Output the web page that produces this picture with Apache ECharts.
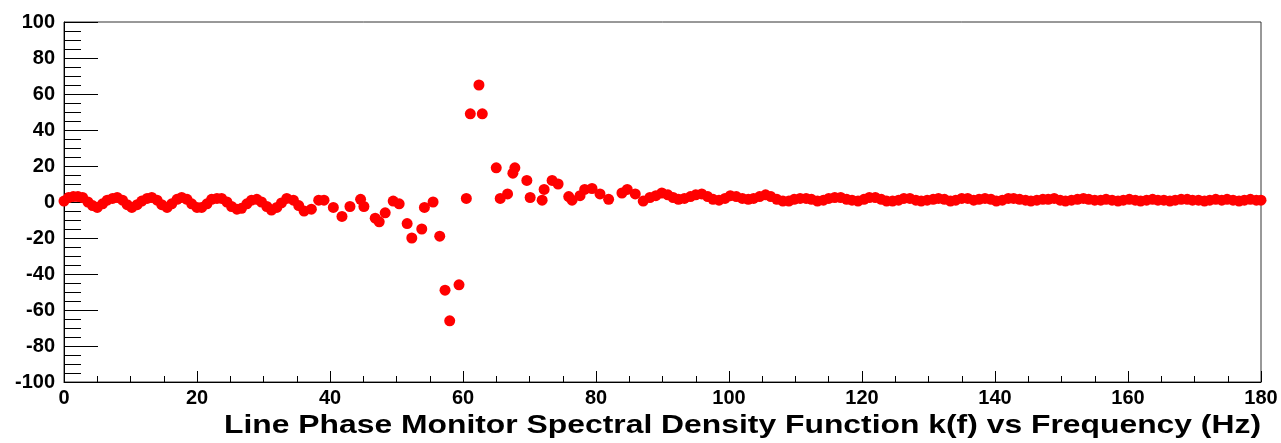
<!DOCTYPE html>
<html>
<head>
<meta charset="utf-8">
<script src="https://cdn.jsdelivr.net/npm/echarts@6/dist/echarts.min.js"></script>
<style>
html,body{margin:0;padding:0;background:#fff;}
#chart{width:1281px;height:443px;}
</style>
</head>
<body>
<div id="chart"></div>
<script>
// Frequencies (Hz)
const freq = [
  0.0,0.7,1.4,2.1,2.8,3.6,4.3,5.0,5.8,6.5,7.3,8.0,8.8,9.5,10.2,11.0,11.7,12.5,13.2,14.0,
  14.7,15.5,16.2,17.0,17.7,18.5,19.2,20.0,20.7,21.5,22.2,23.0,23.7,24.5,25.2,26.0,26.7,27.5,28.2,29.0,
  29.7,30.5,31.2,32.0,32.7,33.5,34.5,35.3,36.1,37.2,38.3,39.1,40.5,41.8,43.0,44.6,45.1,46.8,47.4,48.3,
  49.5,50.4,51.6,52.3,53.8,54.2,55.5,56.5,57.3,58.0,59.4,60.5,61.1,62.4,62.9,65.0,65.6,66.7,67.5,67.8,
  69.6,70.1,71.9,72.2,73.4,74.3,75.9,76.4,77.6,78.3,79.4,80.6,81.9,83.9,84.7,85.9,87.1,88.1,
  89.0,89.9,90.8,91.6,92.4,93.3,94.2,95.0,95.9,96.8,97.6,98.5,99.4,100.2,101.1,102.0,102.9,103.7,104.6,105.5,
  106.3,107.2,108.1,109.0,109.8,110.7,111.6,112.4,113.3,114.2,115.0,115.9,116.8,117.7,118.5,119.4,120.3,121.1,122.0,122.9,
  123.7,124.6,125.5,126.3,127.2,128.1,128.9,129.8,130.7,131.5,132.4,133.3,134.1,135.0,135.9,136.8,137.6,138.5,139.4,140.2,
  141.1,142.0,142.8,143.7,144.6,145.4,146.3,147.2,148.0,148.9,149.8,150.6,151.5,152.4,153.3,154.1,155.0,155.9,156.7,157.6,
  158.5,159.3,160.2,161.1,161.9,162.8,163.7,164.5,165.4,166.3,167.1,168.0,168.9,169.7,170.6,171.5,172.3,173.2,174.1,174.9,
  175.8,176.7,177.5,178.4,179.3,180.0
];
// k(f) values
const kf = [
  0.5,2.5,3,3,2.5,0,-2,-3,-1,1,2,2.5,1,-1.5,-3,-1.5,0.5,2,2.5,1,
  -1.5,-3,-1,1.5,2.5,1.5,-1,-3,-3,-1,1.5,2,2,0,-2.5,-4,-3.5,-1,1,1.5,
  0,-2.5,-4.5,-3,-0.5,2,1,-2,-5,-4,1,1,-3,-8,-2.5,1.5,-2.5,-9,-11,-6,
  0.5,-1,-12,-20,-15,-3,0,-19,-49,-66,-46,2,49,65,49,19,2,4.5,16,19,
  12,2.5,1,7,12,10,3,1,3.5,7,7.5,4.5,1.5,5,7,4.5,0.5,2.5,
  3.5,5,4,2.5,1.5,2,3,4,4.5,3,1.5,1,2,3.5,3,2,1.5,2,3,4,
  3,1.5,0.5,0.5,1.5,2,2,1.5,0.5,1,2,2.5,2.5,1.5,1,0.5,1.5,2.5,2.5,1.5,
  0.5,0.5,1,2,2,1,0.5,1,1.5,2,1.5,0.5,1,2,2,1,1.5,2,1.5,0.5,
  1,2,2,1.5,1,0.5,1,1.5,1.5,2,1,0.5,1,1.5,2,1.5,1,1,1.5,1,
  0.5,1,1.5,1,0.5,1,1.5,1,1,0.5,1,1.5,1.5,1,1,0.5,1,1.5,1,1.5,
  1,0.5,1,1.5,1,1
];
const xTicks = {min: 0, max: 180, step: 20};
const yTicks = {min: -100, max: 100, step: 20};
const xTitle = 'Line Phase Monitor Spectral Density Function k(f) vs Frequency (Hz)';

const FONT = '"Liberation Sans", Arial, Helvetica, sans-serif';
const data = freq.map((f, i) => [f, kf[i]]);

const chart = echarts.init(document.getElementById('chart'), null, {renderer: 'canvas'});
chart.setOption({
  animation: false,
  backgroundColor: '#ffffff',
  graphic: [{
    type: 'text',
    x: 1261, y: 426,
    scaleX: 1.225, scaleY: 1,
    silent: true,
    style: {
      x: 0, y: 0,
      text: xTitle,
      fill: '#000',
      font: 'bold 26px ' + FONT,
      textAlign: 'right',
      textVerticalAlign: 'middle'
    }
  }],
  grid: {
    left: 64, right: 20, top: 22, bottom: 61,
    show: true, borderColor: '#333', borderWidth: 1, backgroundColor: 'transparent'
  },
  xAxis: {
    type: 'value',
    min: xTicks.min, max: xTicks.max, interval: xTicks.step,
    axisLine: {show: true, onZero: false, lineStyle: {color: '#000', width: 1}},
    axisTick: {show: true, inside: true, length: 11, lineStyle: {color: '#000'}},
    minorTick: {show: true, splitNumber: 4, length: 6, lineStyle: {color: '#000'}},
    splitLine: {show: false},
    axisLabel: {fontFamily: FONT, fontWeight: 'bold', fontSize: 20, color: '#000', margin: 6}
  },
  yAxis: {
    type: 'value',
    min: yTicks.min, max: yTicks.max, interval: yTicks.step,
    axisLine: {show: true, onZero: false, lineStyle: {color: '#000', width: 1}},
    axisTick: {show: true, inside: true, length: 34, lineStyle: {color: '#000'}},
    minorTick: {show: true, splitNumber: 4, length: 17, lineStyle: {color: '#000'}},
    splitLine: {show: false},
    axisLabel: {fontFamily: FONT, fontWeight: 'bold', fontSize: 20, color: '#000', margin: 9}
  },
  series: [{
    type: 'scatter',
    data: data,
    symbol: 'circle',
    symbolSize: 11,
    itemStyle: {color: '#ff0000', opacity: 1},
    z: 1
  }]
});
</script>
</body>
</html>
